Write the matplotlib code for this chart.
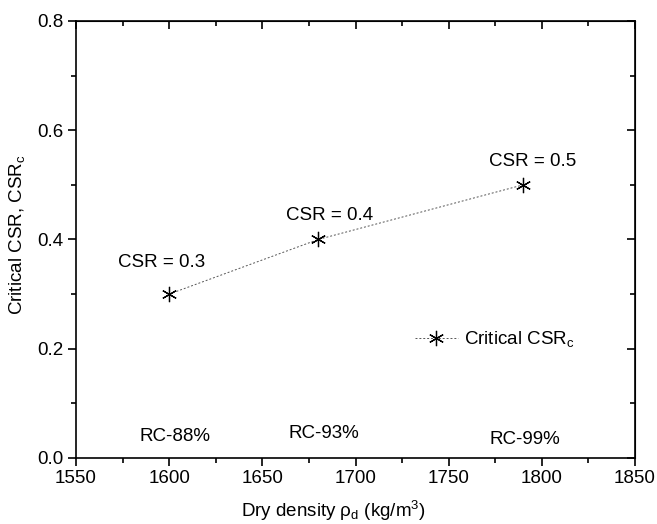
import matplotlib.pyplot as plt
from matplotlib.ticker import MultipleLocator

plt.rcParams['font.family'] = ['Liberation Sans', 'DejaVu Sans']
plt.rcParams['mathtext.fontset'] = 'custom'
plt.rcParams['mathtext.rm'] = 'Liberation Sans'
plt.rcParams['mathtext.it'] = 'Liberation Sans'

# data
density = [1600, 1680, 1790]
csr_c = [0.3, 0.4, 0.5]
csr_labels = ['CSR = 0.3', 'CSR = 0.4', 'CSR = 0.5']
csr_label_x = [1596, 1686, 1795]
csr_label_y = [0.358, 0.444, 0.543]
rc_labels = ['RC-88%', 'RC-93%', 'RC-99%']
rc_x = [1603, 1683, 1791]
rc_y = [0.039, 0.045, 0.033]

FS = 13.5

fig = plt.figure(figsize=(6.57, 5.24), dpi=100)
ax = fig.add_axes([0.1157, 0.126, 0.8508, 0.834])

ax.plot(density, csr_c, linestyle=(0, (2, 2)), color='#555555', linewidth=0.7,
        marker=(6, 2, 0), markersize=11, markeredgecolor='black',
        markeredgewidth=0.9, label='Critical CSR$_\\mathrm{c}$')

for x, y, t in zip(csr_label_x, csr_label_y, csr_labels):
    ax.text(x, y, t, ha='center', va='center', fontsize=FS)
for x, y, t in zip(rc_x, rc_y, rc_labels):
    ax.text(x, y, t, ha='center', va='center', fontsize=FS)

ax.set_xlim(1550, 1850)
ax.set_ylim(0, 0.8)
ax.xaxis.set_major_locator(MultipleLocator(50))
ax.xaxis.set_minor_locator(MultipleLocator(25))
ax.yaxis.set_major_locator(MultipleLocator(0.2))
ax.yaxis.set_minor_locator(MultipleLocator(0.1))
ax.yaxis.set_major_formatter(plt.FormatStrFormatter('%.1f'))

ax.tick_params(which='both', direction='out', top=False, right=False, labelsize=FS, width=1.2)
ax.tick_params(which='major', length=5.5)
ax.tick_params(which='minor', length=3.5)
for s in ax.spines.values():
    s.set_linewidth(1.2)

# inward ticks on top and right
axt = ax.secondary_xaxis('top')
axt.xaxis.set_major_locator(MultipleLocator(50))
axt.xaxis.set_minor_locator(MultipleLocator(25))
axt.tick_params(which='both', direction='in', labeltop=False, width=1.2)
axt.tick_params(which='major', length=5.5)
axt.tick_params(which='minor', length=3.5)
axr = ax.secondary_yaxis('right')
axr.yaxis.set_major_locator(MultipleLocator(0.2))
axr.yaxis.set_minor_locator(MultipleLocator(0.1))
axr.tick_params(which='both', direction='in', labelright=False, width=1.2)
axr.tick_params(which='major', length=5.5)
axr.tick_params(which='minor', length=3.5)

ax.set_xlabel('Dry density ρ$_\\mathrm{d}$ (kg/m$^3$)', fontsize=FS)
ax.set_ylabel('Critical CSR, CSR$_\\mathrm{c}$', fontsize=FS)
ax.xaxis.set_label_coords(0.46, -0.094)
ax.yaxis.set_label_coords(-0.088, 0.51)

ax.legend(loc='center left', bbox_to_anchor=(0.606, 0.272), frameon=False,
          fontsize=FS, handlelength=2.3, borderpad=0, borderaxespad=0, handletextpad=0.3)

fig.savefig('out.png', dpi=100)
